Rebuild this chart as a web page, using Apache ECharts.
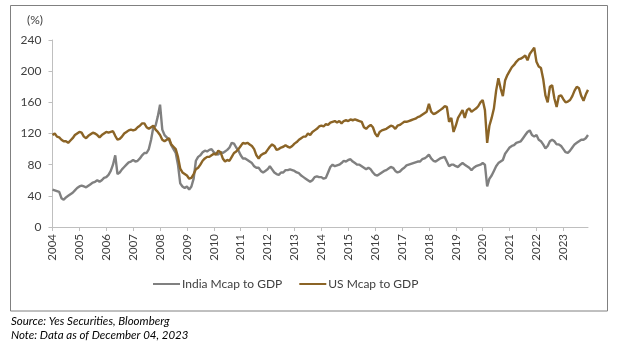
<!DOCTYPE html>
<html><head><meta charset="utf-8">
<script src="https://cdn.jsdelivr.net/npm/echarts@6/dist/echarts.min.js"></script>
<style>html,body{margin:0;padding:0;background:#fff}#c{width:619px;height:347px}</style>
</head><body><div id="c"></div>
<script>
const years = [2004,2005,2006,2007,2008,2009,2010,2011,2012,2013,2014,2015,2016,2017,2018,2019,2020,2021,2022,2023];
const yTicks = [0,40,80,120,160,200,240];
const seriesNames = ['India Mcap to GDP','US Mcap to GDP'];
// monthly values, Jan 2004 .. Dec 2023
const india = [
 48,47,46,45,37,35,38,40,42,44,47,50,
 52,53,52,51,53,55,57,58,60,58,60,63,
 64,67,72,80,92,68,70,74,77,80,83,84,
 86,84,85,88,92,95,95,100,112,128,130,142,
 157,125,118,115,112,105,100,95,80,56,52,50,
 52,48,52,62,85,90,92,96,98,97,99,100,
 96,94,93,96,95,97,99,102,108,107,102,98,
 92,88,88,86,84,82,78,76,76,72,70,72,
 74,78,74,70,68,67,70,70,73,73,74,73,
 72,70,69,66,64,62,60,58,60,64,65,64,
 64,62,63,70,77,80,78,79,80,82,85,84,
 86,87,84,82,80,80,78,76,74,76,74,70,
 67,66,68,70,72,73,75,77,76,72,70,71,
 74,76,79,80,81,82,83,84,84,87,88,90,
 93,88,85,84,86,88,89,90,84,78,80,80,
 78,77,80,82,80,78,76,73,76,78,79,80,
 82,80,52,62,66,72,78,82,84,86,94,98,
 102,104,105,108,109,110,114,118,122,124,118,116,
 118,112,110,106,101,104,110,112,110,106,106,104,
 100,96,95,98,102,106,108,110,112,112,114,118
];
const us = [
 118,120,116,115,112,110,110,108,111,114,118,120,
 122,121,116,114,117,119,121,120,118,115,118,120,
 122,121,122,123,117,112,113,116,120,122,124,125,
 124,125,128,130,133,133,128,126,128,130,125,122,
 118,112,110,112,114,106,103,100,90,75,70,68,
 66,62,63,68,74,76,80,85,88,90,90,92,
 94,93,98,96,88,84,86,85,90,95,97,100,
 104,108,107,108,106,104,100,92,88,92,94,95,
 99,103,106,104,99,100,102,103,105,103,102,104,
 107,109,112,114,116,116,120,118,122,124,126,129,
 130,129,132,131,134,135,136,134,136,133,136,137,
 136,138,137,138,137,136,135,128,126,129,131,128,
 120,116,122,124,125,126,128,130,129,126,130,131,
 133,135,135,136,137,138,139,141,142,144,146,148,
 158,148,145,146,148,150,152,155,154,135,140,122,
 130,140,145,150,140,150,152,148,150,152,155,160,
 163,150,108,130,140,152,175,191,178,168,188,195,
 200,205,208,212,215,216,218,220,214,222,226,230,
 212,206,204,190,169,160,180,182,165,154,168,169,
 164,160,161,163,168,175,180,178,168,162,170,176
];
const months = [];
years.forEach(y => { for (let m = 1; m <= 12; m++) months.push(y + '-' + (m < 10 ? '0' + m : m)); });

const FONT = 'Lato, "Noto Sans", sans-serif';
const chart = echarts.init(document.getElementById('c'));
chart.setOption({
  animation: false,
  textStyle: { fontFamily: FONT },
  grid: { left: 52.5, right: 31, top: 40, bottom: 120 },
  xAxis: {
    type: 'category', data: months, boundaryGap: false,
    axisLine: { lineStyle: { color: '#bfbfbf', width: 1 } },
    axisTick: { interval: 11, length: 4, lineStyle: { color: '#bfbfbf' } },
    axisLabel: { interval: 11, rotate: 90, margin: 7, color: '#404040', fontSize: 11.5, fontFamily: FONT,
      formatter: v => v.slice(0, 4) },
    splitLine: { show: false }
  },
  yAxis: {
    type: 'value', min: yTicks[0], max: yTicks[yTicks.length - 1], interval: 40,
    axisLine: { show: true, lineStyle: { color: '#bfbfbf' } },
    axisTick: { show: true, length: 4, lineStyle: { color: '#bfbfbf' } },
    axisLabel: { color: '#404040', fontSize: 12, margin: 11, fontFamily: FONT },
    splitLine: { show: false }
  },
  legend: {
    left: 153, top: 278, padding: 0, itemGap: 17, itemWidth: 27, itemHeight: 2, icon: 'rect',
    textStyle: { color: '#404040', fontSize: 12, fontFamily: FONT, padding: [0,0,0,-3] },
    data: seriesNames
  },
  series: [
    { name: seriesNames[0], type: 'line', data: india, symbol: 'none', color: '#808080',
      lineStyle: { width: 2.4, color: '#808080' } },
    { name: seriesNames[1], type: 'line', data: us, symbol: 'none', color: '#8B6426',
      lineStyle: { width: 2.4, color: '#8B6426' } }
  ],
  graphic: [
    { type: 'rect', shape: { x: 10.5, y: 5.5, width: 597, height: 305.5 }, silent: true,
      style: { fill: 'none', stroke: '#808080', lineWidth: 1 } },
    { type: 'text', left: 27, top: 14, style: { text: '(%)', fill: '#404040', font: '12px ' + FONT } },
    { type: 'text', left: 11, top: 315, style: { text: 'Source: Yes Securities, Bloomberg', fill: '#000', font: 'italic 11.5px ' + FONT } },
    { type: 'text', left: 11, top: 329, style: { text: 'Note: Data as of December 04, 2023', fill: '#000', font: 'italic 11.5px ' + FONT } }
  ]
});
</script></body></html>
